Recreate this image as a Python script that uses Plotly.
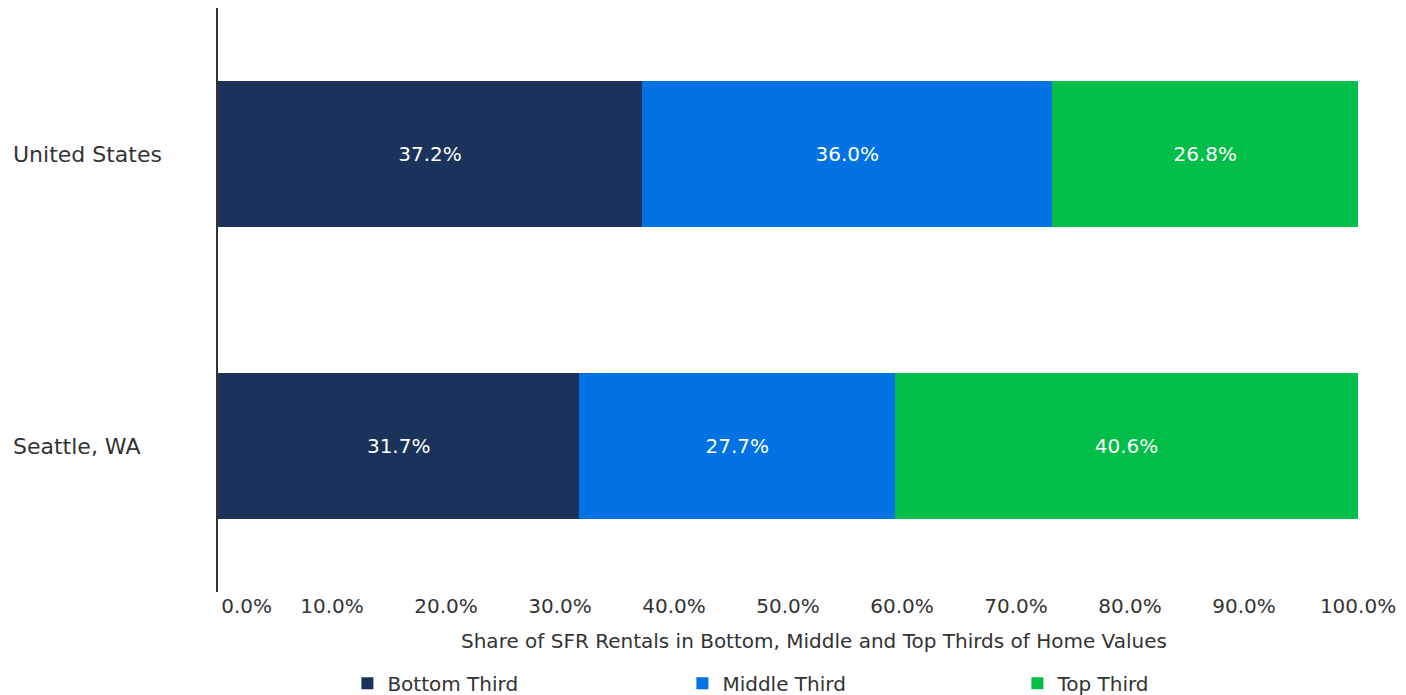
import plotly.graph_objects as go

# Share of SFR rentals by home-value third (percent)
regions = ["United States", "Seattle, WA"]
series_names = ["Bottom Third", "Middle Third", "Top Third"]
bottom_third = [37.2, 31.7]
middle_third = [36.0, 27.7]
top_third = [26.8, 40.6]
series_values = [bottom_third, middle_third, top_third]
series_colors = ["#1B335B", "#0072E3", "#00BE48"]

tick_values = [0, 10, 20, 30, 40, 50, 60, 70, 80, 90, 100]
tick_labels = ["0.0%", "10.0%", "20.0%", "30.0%", "40.0%", "50.0%",
               "60.0%", "70.0%", "80.0%", "90.0%", "100.0%"]
x_title = "Share of SFR Rentals in Bottom, Middle and Top Thirds of Home Values"

FONT = "DejaVu Sans"
TEXT_COLOR = "#333333"

# the first tick label sits clear of the vertical axis line
shown_tick_labels = ["\u00a0" * 9 + tick_labels[0]] + tick_labels[1:]

fig = go.Figure()
for name, vals, color in zip(series_names, series_values, series_colors):
    fig.add_trace(go.Bar(
        name=name,
        y=regions,
        x=vals,
        orientation="h",
        marker=dict(color=color, line=dict(width=0)),
        text=[f"{v:.1f}%" for v in vals],
        textposition="inside",
        insidetextanchor="middle",
        insidetextfont=dict(family=FONT, size=20, color="white"),
        constraintext="none",
        hoverinfo="skip",
    ))

# category labels, left aligned at the figure edge
for r in regions:
    fig.add_annotation(
        x=-0.182, xref="paper", xanchor="left",
        y=r, yref="y", yanchor="middle",
        text=r, showarrow=False,
        font=dict(family=FONT, size=22, color=TEXT_COLOR),
    )

fig.add_annotation(
    x=0.523, xref="paper", xanchor="center",
    y=-0.084, yref="paper", yanchor="middle",
    text=x_title, showarrow=False,
    font=dict(family=FONT, size=20, color=TEXT_COLOR),
)

fig.update_layout(
    width=1406, height=695,
    margin=dict(l=218, r=48, t=8, b=103, autoexpand=False),
    barmode="stack",
    bargap=0.5,
    paper_bgcolor="white",
    plot_bgcolor="white",
    font=dict(family=FONT, size=20, color=TEXT_COLOR),
    showlegend=True,
    legend=dict(
        orientation="h",
        x=0.1135, xanchor="left",
        y=0.017, yref="container", yanchor="middle",
        entrywidth=290, entrywidthmode="pixels",
        font=dict(family=FONT, size=20, color=TEXT_COLOR),
        traceorder="normal",
    ),
    xaxis=dict(
        range=[0, 100],
        tickvals=tick_values,
        ticktext=shown_tick_labels,
        showgrid=False,
        zeroline=False,
        showline=False,
        ticks="",
        tickfont=dict(family=FONT, size=20, color=TEXT_COLOR),
        fixedrange=True,
    ),
    yaxis=dict(
        categoryorder="array",
        categoryarray=regions[::-1],
        range=[-0.5, 1.5],
        showticklabels=False,
        showgrid=False,
        zeroline=False,
        showline=True,
        linecolor="#333333",
        linewidth=2,
        ticks="",
        fixedrange=True,
    ),
)

fig.write_html("out.html")
